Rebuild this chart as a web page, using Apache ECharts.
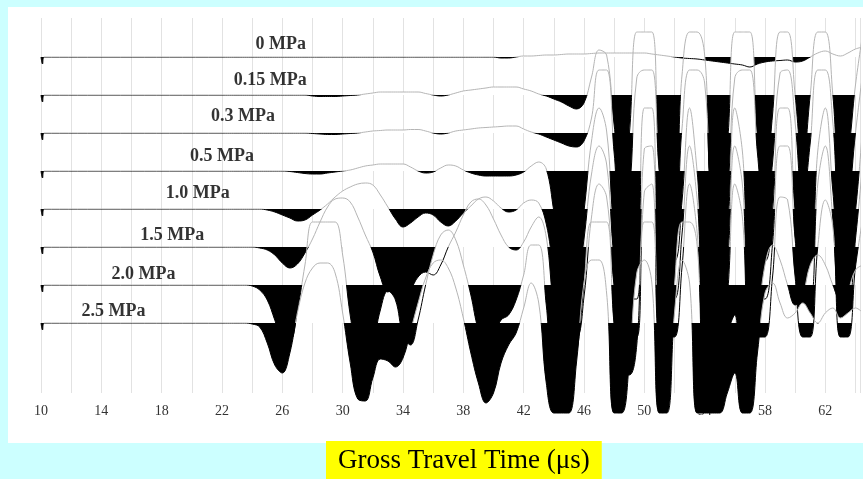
<!DOCTYPE html>
<html>
<head>
<meta charset="utf-8">
<script src="https://cdn.jsdelivr.net/npm/echarts@6/dist/echarts.min.js"></script>
<style>
html,body{margin:0;padding:0;background:#ccffff;}
#wrap{position:relative;width:863px;height:479px;overflow:hidden;background:#ccffff;}
#panel{position:absolute;left:8px;top:7px;width:855px;height:436px;background:#ffffff;}
#chart{position:absolute;left:0;top:0;width:863px;height:479px;}
</style>
</head>
<body>
<div id="wrap"><div id="panel"></div><div id="chart"></div></div>
<script>
// ---- data (amplitudes in plot units, positive up; sampled every 0.5 µs from 22 µs) ----
const TRACE_NAMES = ['0 MPa', '0.15 MPa', '0.3 MPa', '0.5 MPa', '1.0 MPa', '1.5 MPa', '2.0 MPa', '2.5 MPa'];
const T_START = 22;
const T_STEP = 0.5;
const PULSE_T = [10.0, 10.1, 10.2];
const PULSE_A = [0, -7, 0];

const amp_0MPa = [
  0,0,0,0,0,0,0,0,0,0,
  0,0,0,0,0,0,0,0,0,0,
  0,0,0,0,0,0,0,0,0,0,
  0,0,0,0,0,0,0,-1,-1,0,
  1,1,1.5,2,2,2.5,3,3,3,3.5,
  4,4,4,4,4,4,4,3,2,1,
  0,-1,-1.5,-2,-3,-4,-5,-6,-7,-8,
  -10,-7,-5,-4,-3.5,-3,-5,-4,0,4,
  6,3,1,4,8,10];
const amp_015MPa = [
  0,0,0,0,0,0,0,0,0,0,
  0,0,-1,-1.5,-1.5,-1.5,-1,-0.5,0,1,
  2,3,3,3,3,3,3,1.5,0,-1,
  0,2,4,5,6,7,8,8,8,8,
  6,4,1,-1,-4,-7,-11,-14,-8,18,
  45,40,-30,-90,-40,63,63,63,-60,-90,
  -90,20,63,63,40,-90,-90,-50,63,63,
  63,-40,-90,-20,63,63,0,-70,0,63,
  63,0,-90,-60,10,63];
const amp_03MPa = [
  0,0,0,0,0,0,0,0,0,0,
  0,0,-0.5,-1,-1.5,-1.5,-1,-0.5,0,1,
  2,2.5,3,3,3,3.5,3.5,2,0,-1,
  0,2,3,4,5,5.5,6,6.5,7,7,
  4,1,-1,-4,-7,-10,-13,-14,-8,15,
  63,63,-20,-90,-60,55,63,63,-40,-90,
  -90,5,63,63,50,-80,-90,-60,55,63,
  63,-20,-90,-30,60,63,10,-70,-10,63,
  63,10,-90,-70,0,63];
const amp_05MPa = [
  0,0,0,0,0,0,0,0,0,-0.5,
  -1.5,-2.5,-3,-3,-2,-1,0,1,3,5,
  6,7,7,7,7,4,0,-2,-1,3,
  6,5,1,-2,-4,-5,-5,-5,-5,-4,
  -1,5,9,2,-40,-85,-90,-90,-40,30,
  63,40,-60,-90,-90,-90,63,63,-90,-90,
  -90,-30,63,0,-90,-90,-90,-60,63,20,
  -90,-90,-90,-40,63,63,-40,-90,-90,20,
  63,-20,-90,-90,-40,50];
const amp_10MPa = [
  0,0,0,0,0,0,-1,-3,-6,-9,
  -12,-11,-6,-1,5,12,18,22,25,26,
  24,14,2,-10,-18,-14,-8,-4,-6,-13,
  -17,-12,-4,3,10,12,8,1,-3,-1,
  6,9,6,-15,-60,-90,-90,-80,-30,35,
  63,45,-50,-90,-90,-90,60,63,-90,-90,
  -90,-25,63,10,-90,-90,-90,-55,63,25,
  -90,-90,-90,-35,63,63,-30,-90,-90,25,
  63,-10,-90,-90,-30,50];
const amp_15MPa = [
  0,0,0,0,0,-1,-3,-8,-16,-21,
  -17,-6,8,25,40,48,49,45,30,12,
  -5,-30,-45,-40,-46,-42,-30,-25,-28,-18,
  0,15,32,45,48,42,28,12,0,-3,
  5,20,30,10,-60,-90,-90,-90,-50,30,
  63,50,-40,-90,-90,-90,55,63,-90,-90,
  -90,-20,63,15,-90,-90,-90,-50,63,30,
  -90,-90,-90,-30,50,47,-30,-90,-90,0,
  47,20,-90,-90,-20,30];
const amp_20MPa = [
  0,0,0,0,-1,-5,-15,-35,-55,-55,
  -25,20,63,63,63,63,30,-30,-70,-80,
  -60,-25,-6,-15,-50,-60,-35,0,30,50,
  55,45,20,-10,-45,-60,-50,-35,-30,-15,
  10,40,40,-20,-90,-90,-90,-70,0,63,
  63,63,-40,-90,-90,-60,63,63,-60,-90,
  0,63,63,40,-90,-90,-90,-50,-30,-90,
  -90,-40,20,40,25,0,-20,-10,20,30,
  20,0,-15,-5,15,20];
const amp_25MPa = [
  0,0,0,0,-1,-4,-20,-42,-50,-30,
  10,40,55,60,60,50,10,-40,-76,-78,
  -55,-36,-38,-44,-35,-8,20,45,60,63,
  55,35,5,-30,-60,-80,-70,-40,-22,-10,
  15,40,20,-60,-90,-90,-90,-40,40,63,
  63,30,-90,-90,-40,50,63,40,-90,-90,
  10,63,40,-90,-90,-90,-90,-70,-50,-90,
  -90,-30,30,40,20,5,10,20,10,0,
  10,15,5,10,15,10];
const AMPLITUDES = [amp_0MPa, amp_015MPa, amp_03MPa, amp_05MPa, amp_10MPa, amp_15MPa, amp_20MPa, amp_25MPa];

// ---- layout / style ----
const SPACING = 38;      // vertical distance between trace baselines
const CLIP_POS = 63;     // display clipping of positive lobes
const CLIP_NEG = -90;    // display clipping of negative lobes
const LABEL_T = [25.9, 25.2, 23.4, 22.0, 20.4, 18.7, 16.8, 14.8];
const LABEL_DY = [13, 15, 17, 15, 16, 12, 11, 12];

function traceData(i) {
  const base = -i * SPACING;
  const pts = PULSE_T.map((t, j) => [t, base + PULSE_A[j]]);
  AMPLITUDES[i].forEach((a, k) => {
    const v = Math.max(CLIP_NEG, Math.min(CLIP_POS, a));
    pts.push([T_START + k * T_STEP, base + v]);
  });
  return pts;
}

const series = [];
const visualMap = [];
TRACE_NAMES.forEach((name, i) => {
  const base = -i * SPACING;
  const data = traceData(i);
  const fillIdx = series.length;
  series.push({
    type: 'line', name: name + ' fill', data: data, smooth: 0.4,
    symbol: 'none', clip: false, silent: true,
    lineStyle: { width: 0 },
    areaStyle: { origin: base, opacity: 1 }
  });
  visualMap.push({
    type: 'piecewise', show: false, seriesIndex: fillIdx, dimension: 1,
    pieces: [{ min: -2000, max: base, color: '#000000' }, { min: base, max: 2000, color: '#ffffff' }]
  });
  const lineIdx = series.length;
  series.push({
    type: 'line', name: name, data: data, smooth: 0.4,
    symbol: 'none', clip: false, silent: true,
    lineStyle: { width: 1 }
  });
  visualMap.push({
    type: 'piecewise', show: false, seriesIndex: lineIdx, dimension: 1,
    pieces: [{ min: -2000, max: base, color: '#000000' }, { min: base, max: 2000, color: '#b4b4b4' }]
  });
});

series.push({
  type: 'scatter', symbolSize: 1, silent: true, z: 10,
  itemStyle: { color: 'rgba(0,0,0,0)' },
  data: TRACE_NAMES.map((name, i) => ({ name: name, value: [LABEL_T[i], -i * SPACING + LABEL_DY[i]] })),
  label: {
    show: true, position: 'inside', formatter: '{b}',
    fontFamily: 'Liberation Serif', fontWeight: 'bold', fontSize: 18, color: '#000'
  }
});

const chart = echarts.init(document.getElementById('chart'), null, { renderer: 'canvas' });
chart.setOption({
  animation: false,
  title: {
    text: 'Gross Travel Time (μs)', left: 326, top: 441,
    backgroundColor: '#ffff00', padding: [6, 12, 5, 12],
    textStyle: { fontFamily: 'Liberation Serif', fontSize: 27, fontWeight: 'normal', color: '#000', lineHeight: 27 }
  },
  grid: { left: 41, right: 0, top: 18, bottom: 86 },
  xAxis: {
    type: 'value', min: 10, max: 64.3, interval: 2,
    axisLine: { show: false }, axisTick: { show: false },
    splitLine: { show: true, lineStyle: { color: '#e2e2e2', width: 1 } },
    axisLabel: {
      margin: 11, color: '#333', fontFamily: 'Liberation Serif', fontSize: 14,
      formatter: function (v) { return ((v - 10) % 4 === 0) ? String(v) : ''; }
    }
  },
  yAxis: { type: 'value', min: -336, max: 39, show: false },
  visualMap: visualMap,
  series: series
});
</script>
</body>
</html>
